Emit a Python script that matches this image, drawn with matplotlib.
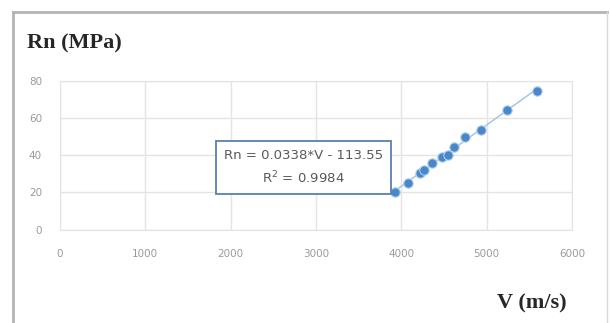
import matplotlib
matplotlib.use('Agg')
import matplotlib.pyplot as plt
from matplotlib.lines import Line2D
import numpy as np

# ---------- Data ----------
v_ms = [3926, 4075, 4219, 4266, 4356, 4473, 4547, 4621, 4746, 4930, 5242, 5586]
rn_mpa = [20.4, 25.2, 30.3, 32.0, 35.7, 39.2, 40.1, 44.6, 50.0, 53.6, 64.4, 74.8]
x_ticks = [0, 1000, 2000, 3000, 4000, 5000, 6000]
y_ticks = [0, 20, 40, 60, 80]
eq_text = "Rn = 0.0338*V - 113.55\nR$^2$ = 0.9984"

W, H = 610, 323
fig = plt.figure(figsize=(W / 100, H / 100), dpi=100)
ax = fig.add_axes([60 / W, 1 - 229.5 / H, 512 / W, 148.5 / H])

# ---------- Trendline + points ----------
k, b = np.polyfit(v_ms, rn_mpa, 1)
xs = np.array([min(v_ms), max(v_ms)])
ax.plot(xs, k * xs + b, color='#9cc3e6', lw=1.0, zorder=2)
ax.scatter(v_ms, rn_mpa, s=45, color='#4a86c8', edgecolors='#a9cdef',
           linewidths=0.8, zorder=3)

ax.set_xlim(0, 6000)
ax.set_ylim(0, 80)
ax.set_xticks(x_ticks)
ax.set_yticks(y_ticks)
ax.grid(True, color='#e4e4e4', lw=1.0)
ax.set_axisbelow(True)
for s in ax.spines.values():
    s.set_color('#e4e4e4')
ax.tick_params(length=0, labelsize=7.5, labelcolor='#9a9a9a')
ax.tick_params(axis='x', pad=14)
ax.tick_params(axis='y', pad=13)

# equation label box
fig.text(303.5 / W, 1 - 167.5 / H, eq_text, ha='center', va='center',
         fontsize=9.5, color='#595959', linespacing=1.6,
         family='Liberation Sans Narrow',
         bbox=dict(boxstyle='square,pad=0.6', fc='white', ec='#5a7fae', lw=1.3))

# axis titles
fig.text(27 / W, 1 - 43 / H, "Rn (MPa)", ha='left', va='center',
         fontsize=16, fontweight='bold', family='Liberation Serif', color='#262626')
fig.text(567 / W, 1 - 303 / H, "V (m/s)", ha='right', va='center',
         fontsize=16, fontweight='bold', family='Liberation Serif', color='#262626')

# outer frame
frame_kw = dict(color='#b4b4b4', lw=2.0, transform=fig.transFigure)
fig.add_artist(Line2D([13 / W, 13 / W], [0, 1 - 12 / H], **frame_kw))
fig.add_artist(Line2D([13 / W, 607 / W], [1 - 12 / H, 1 - 12 / H], **frame_kw))
fig.add_artist(Line2D([607 / W, 607 / W], [0, 1 - 12 / H], color='#d8d8d8',
                      lw=1.0, transform=fig.transFigure))

fig.savefig('out.png', dpi=100)
